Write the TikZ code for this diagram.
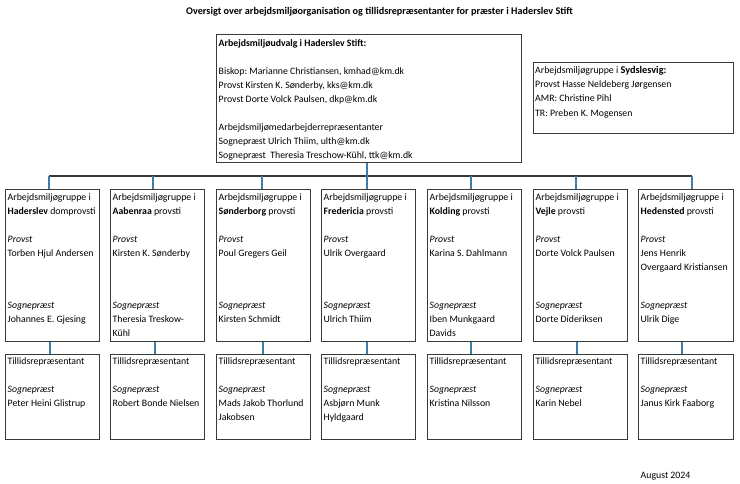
\documentclass[tikz,border=0pt]{standalone}
\usepackage{fontspec}
\setmainfont{Carlito}
\definecolor{boxc}{HTML}{3A3A3A}
\definecolor{linec}{HTML}{3A3A3A}
\definecolor{bluec}{HTML}{3D7DA6}
\newcommand\firstln{\rule{0pt}{7pt}}
\frenchspacing
\begin{document}
\begin{tikzpicture}[x=1pt,y=-1pt,
  box/.style={draw=boxc, line width=1.3pt, anchor=north west, inner sep=0pt},
  txt/.style={anchor=north west, align=left, inner sep=0pt, font=\fontsize{9.8}{14.2}\selectfont},
  blu/.style={draw=bluec, line width=1.6pt},
  hl/.style={draw=linec, line width=1.6pt}]
\useasboundingbox (0,0) rectangle (740,483);
% title
\node[anchor=base, inner sep=0pt, font=\fontsize{10.2}{12}\selectfont\bfseries] (title) at (379.5,14.5) {Oversigt over arbejdsmiljøorganisation og tillidsrepræsentanter for præster i Haderslev Stift};
% top box
\node[box, minimum width=305pt, minimum height=128pt] (top) at (216,34) {};
\node[txt, font=\fontsize{9.8}{14}\selectfont] (toptxt) at (218.5,39) {\firstln\textbf{Arbejdsmiljøudvalg i Haderslev Stift:}\\
~\\
Biskop: Marianne Christiansen, kmhad@km.dk\\
Provst Kirsten K. Sønderby, kks@km.dk\\
Provst Dorte Volck Paulsen, dkp@km.dk\\
~\\
Arbejdsmiljømedarbejderrepræsentanter\\
Sognepræst Ulrich Thiim, ulth@km.dk\\
Sognepræst\ \ Theresia Treschow-Kühl, ttk@km.dk};
% right box
\node[box, minimum width=200pt, minimum height=71pt] (syd) at (533,62) {};
\node[txt] (sydtxt) at (535,66) {\firstln Arbejdsmiljøgruppe i {\fontsize{10.3}{14}\selectfont\bfseries Sydslesvig:}\\
Provst Hasse Neldeberg Jørgensen\\
AMR: Christine Pihl\\
TR: Preben K. Mogensen};
% bus
\coordinate (b1) at (49,176);
\coordinate (b2) at (153,176);
\coordinate (b3) at (262,176);
\coordinate (b4) at (367,176);
\coordinate (b5) at (471,176);
\coordinate (b6) at (576,176);
\coordinate (b7) at (692,176);
% columns
\foreach \i/\xl/\w/\xs/\place/\typ/\prov/\sogn/\tr in {
 1/5/94/50/Haderslev/domprovsti/{Torben Hjul Andersen}/{Johannes E. Gjesing}/{Peter Heini Glistrup},
 2/110/94/155/Aabenraa/provsti/{Kirsten K. Sønderby}/{Theresia Treskow-\\Kühl}/{Robert Bonde Nielsen},
 3/216/94/263/Sønderborg/provsti/{Poul Gregers Geil}/{Kirsten Schmidt}/{Mads Jakob Thorlund\\Jakobsen},
 4/321/94/367/Fredericia/provsti/{Ulrik Overgaard}/{Ulrich Thiim}/{Asbjørn Munk\\Hyldgaard},
 5/427/94/471/Kolding/provsti/{Karina S. Dahlmann}/{Iben Munkgaard\\Davids}/{Kristina Nilsson},
 6/533/94/577/Vejle/provsti/{Dorte Volck Paulsen}/{Dorte Dideriksen}/{Karin Nebel},
 7/638/95/682/Hedensted/provsti/{Jens Henrik\\Overgaard Kristiansen}/{Ulrik Dige}/{Janus Kirk Faaborg}}{
  \node[box, minimum width=\w pt, minimum height=152pt] (u\i) at (\xl,189) {};
  \node[box, minimum width=\w pt, minimum height=85pt] (l\i) at (\xl,354) {};
  \node[txt] (h\i) at (\xl+2.5,193) {\firstln Arbejdsmiljøgruppe i\\\textbf{\place} \typ};
  \node[txt] (p\i) at (\xl+2.5,235) {\firstln\textit{Provst}\\\prov};
  \node[txt] (s\i) at (\xl+2.5,301) {\firstln\textit{Sognepræst}\\\sogn};
  \node[txt, font=\fontsize{9.8}{14}\selectfont] (t\i) at (\xl+2.5,357) {\firstln Tillidsrepræsentant\\~\\\textit{Sognepræst}\\\tr};
  \draw[blu] (u\i.south -| \xs,0) -- (l\i.north -| \xs,0);
}
\draw[hl] (b1) -- (b7);
\foreach \i in {1,...,7}{
  \draw[blu] (b\i) -- (b\i |- u\i.north);
}
\draw[blu] (top.south -| b4) -- (b4);
\node[anchor=base west, inner sep=0pt, font=\fontsize{9.8}{12}\selectfont] (date) at (640.5,478) {August 2024};
\end{tikzpicture}
\end{document}
